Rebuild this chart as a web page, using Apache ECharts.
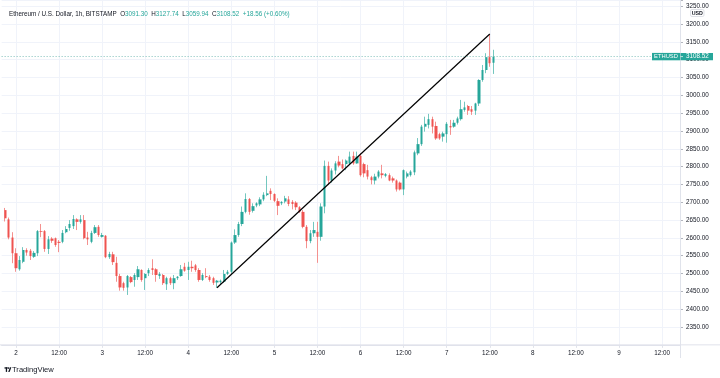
<!DOCTYPE html>
<html><head><meta charset="utf-8">
<script src="https://cdn.jsdelivr.net/npm/echarts@6/dist/echarts.min.js"></script>
<style>html,body{margin:0;padding:0;background:#fff}#c{width:720px;height:378px}</style>
</head><body><div id="c"></div>
<script>
// hours are counted from day 2, 00:00
const firstDay = 2;
const firstCandleHour = -3;
const axisFirstHour = -4;
const axisLastHour = 185;

const opens = [2678,2652,2601,2557,2512,2533,2566,2564,2547,2557,2619,2619,2569,2598,2599,2589,2589,2616,2628,2633,2652,2645,2650,2601,2589,2614,2631,2603,2606,2546,2554,2530,2493,2473,2461,2490,2482,2490,2510,2487,2501,2515,2512,2493,2496,2470,2487,2473,2487,2493,2519,2510,2519,2523,2510,2482,2493,2491,2487,2475,2476,2477,2499,2505,2587,2608,2639,2673,2709,2676,2691,2694,2708,2720,2732,2723,2703,2697,2702,2708,2701,2699,2686,2673,2631,2591,2613,2617,2603,2688,2802,2761,2789,2814,2807,2807,2809,2830,2809,2830,2807,2790,2770,2761,2772,2781,2774,2776,2767,2761,2755,2736,2772,2776,2784,2837,2863,2912,2917,2933,2914,2891,2884,2891,2914,2912,2923,2933,2959,2970,2961,2957,2977,3043,3071,3107,3091.30];
const highs = [2684,2657,2616,2571,2549,2574,2571,2569,2563,2622,2639,2622,2605,2602,2601,2594,2622,2633,2650,2664,2655,2664,2664,2617,2620,2636,2636,2614,2608,2561,2561,2547,2499,2477,2496,2493,2501,2521,2512,2501,2515,2540,2515,2504,2499,2491,2491,2496,2493,2524,2530,2533,2536,2527,2515,2501,2515,2496,2491,2482,2483,2510,2510,2590,2624,2645,2688,2725,2712,2697,2700,2714,2728,2774,2739,2725,2711,2703,2718,2717,2706,2703,2689,2678,2636,2622,2645,2645,2697,2817,2814,2795,2815,2830,2820,2820,2842,2842,2842,2837,2811,2805,2774,2780,2790,2805,2782,2781,2772,2764,2758,2792,2786,2790,2845,2880,2917,2940,2948,2940,2926,2895,2898,2925,2931,2931,2940,2987,2982,2973,2970,2979,3045,3085,3118,3172,3127.74];
const lows = [2646,2596,2529,2505,2508,2529,2550,2538,2544,2549,2602,2561,2555,2586,2575,2560,2585,2613,2620,2625,2622,2640,2596,2580,2585,2611,2603,2601,2543,2541,2524,2477,2452,2452,2440,2473,2463,2482,2477,2454,2493,2496,2477,2485,2468,2454,2468,2456,2482,2491,2505,2482,2505,2505,2477,2479,2487,2477,2468,2460,2471,2474,2496,2499,2583,2603,2633,2669,2665,2671,2686,2689,2703,2717,2706,2700,2664,2692,2697,2689,2680,2678,2670,2627,2571,2585,2603,2530,2592,2669,2748,2755,2778,2798,2792,2790,2805,2805,2808,2772,2770,2764,2750,2750,2767,2767,2770,2759,2755,2730,2733,2720,2767,2772,2776,2832,2858,2898,2907,2893,2875,2875,2870,2867,2889,2909,2918,2929,2954,2945,2945,2945,2970,3038,3062,3080,3059.94];
const closes = [2655,2601,2557,2515,2538,2566,2559,2549,2558,2619,2617,2569,2596,2592,2580,2586,2614,2625,2639,2653,2645,2652,2599,2596,2614,2630,2608,2608,2546,2555,2532,2493,2461,2460,2493,2476,2496,2512,2482,2499,2510,2510,2496,2499,2473,2487,2473,2487,2491,2512,2508,2519,2515,2510,2482,2496,2490,2482,2474,2480,2480,2499,2505,2587,2608,2639,2673,2709,2673,2689,2697,2708,2721,2725,2723,2704,2690,2701,2711,2695,2695,2686,2673,2631,2591,2613,2622,2603,2688,2802,2761,2789,2809,2803,2795,2817,2828,2809,2828,2776,2781,2772,2762,2772,2786,2776,2779,2761,2761,2736,2736,2790,2781,2786,2840,2863,2912,2920,2933,2912,2879,2879,2893,2920,2910,2923,2935,2961,2966,2957,2954,2977,3043,3071,3107,3089.96,3108.52];

const trendHours = [56, 132];
const trendPrices = [2460, 3172];

const symbolName = 'ETHUSD';
const headerName = 'Ethereum / U.S. Dollar, 1h, BITSTAMP';
const currency = 'USD';
const yTicks = {min: 2300, max: 3267.3, step: 50};

const UP = '#26a69a', DOWN = '#ef5350';
const UP_W = '#74c7bf', DOWN_W = '#f4918f';
const FONT = 'Liberation Sans';
const TXT = '#131722';

const categories = [];
for (let h = axisFirstHour; h <= axisLastHour; h++) categories.push(String(h));
const offset = firstCandleHour - axisFirstHour;
const fullData = [], bodyData = [];
for (let i = 0; i < offset; i++) { fullData.push('-'); bodyData.push('-'); }
for (let i = 0; i < opens.length; i++) {
  fullData.push([opens[i], closes[i], lows[i], highs[i]]);
  bodyData.push([opens[i], closes[i], Math.min(opens[i], closes[i]), Math.max(opens[i], closes[i])]);
}
const n = closes.length;
const lastO = opens[n-1], lastH = highs[n-1], lastL = lows[n-1], lastC = closes[n-1];
const chg = lastC - closes[n-2];
const pct = chg / closes[n-2] * 100;
const sign = v => (v >= 0 ? '+' : '') + v.toFixed(2);

const isTick = (idx) => (Number(categories[idx]) % 12 === 0);

const chart = echarts.init(document.getElementById('c'), null, {renderer: 'canvas'});
const option = {
  animation: false,
  backgroundColor: '#ffffff',
  title: {
    left: 9, top: 10, padding: 0,
    text: `{d|${headerName}}  {d|O}{v|${lastO.toFixed(2)}}  {d|H}{v|${lastH.toFixed(2)}}  {d|L}{v|${lastL.toFixed(2)}}  {d|C}{v|${lastC.toFixed(2)}}  {v|${sign(chg)} (${sign(pct)}%)}`,
    textStyle: {
      fontSize: 6.3, fontFamily: FONT, color: TXT, fontWeight: 'normal', lineHeight: 8,
      rich: {
        d: {fontSize: 6.3, fontFamily: FONT, color: TXT, lineHeight: 8},
        v: {fontSize: 6.3, fontFamily: FONT, color: UP, lineHeight: 8}
      }
    }
  },
  grid: {left: 1.64, right: 40, top: 0, bottom: 33.15, containLabel: false, outerBoundsMode: 'none'},
  xAxis: {
    type: 'category', data: categories, boundaryGap: false,
    axisLine: {show: true, lineStyle: {color: '#e0e3eb', width: 1}},
    axisTick: {show: true, interval: isTick, length: 3, lineStyle: {color: '#e0e3eb'}},
    axisLabel: {
      interval: isTick, margin: 5, fontSize: 6.3, fontFamily: FONT, color: TXT,
      formatter: (v) => { const h = Number(v); return h % 24 === 0 ? String(firstDay + h / 24) : '12:00'; }
    },
    splitLine: {show: true, interval: isTick, lineStyle: {color: '#f0f3fa', width: 1}}
  },
  yAxis: {
    type: 'value', position: 'right', scale: true,
    min: yTicks.min, max: yTicks.max, interval: yTicks.step,
    axisLine: {show: false},
    axisTick: {show: true, length: 3, lineStyle: {color: '#b2b5be'}},
    axisLabel: {
      margin: 6, fontSize: 6.3, fontFamily: FONT, color: TXT, showMinLabel: false,
      formatter: (v) => (Math.abs(v % yTicks.step) < 1e-6 ? v.toFixed(2) : '')
    },
    splitLine: {show: true, lineStyle: {color: '#f0f3fa', width: 1}}
  },
  series: [
    {
      type: 'candlestick', name: 'wick', data: fullData, barWidth: 1, silent: true,
      itemStyle: {color: UP_W, color0: DOWN_W, borderColor: UP_W, borderColor0: DOWN_W, borderWidth: 1}
    },
    {
      type: 'candlestick', name: 'body', data: bodyData, barWidth: 2.8, silent: true,
      itemStyle: {color: UP, color0: DOWN, borderColor: UP, borderColor0: DOWN, borderWidth: 0},
      markLine: {
        silent: true, symbol: 'none', animation: false,
        label: {show: false},
        data: [
          [
            {coord: [String(trendHours[0]), trendPrices[0]], lineStyle: {color: '#000000', width: 1.2, type: 'solid'}},
            {coord: [String(trendHours[1]), trendPrices[1]]}
          ],
          {yAxis: lastC, lineStyle: {color: '#7fbfb8', width: 1, type: [1, 2]}}
        ]
      }
    }
  ],
  graphic: []
};
chart.setOption(option);

const py = chart.convertToPixel({yAxisIndex: 0}, lastC);
const plotRight = 720 - 40;
chart.setOption({
  graphic: [
    {type: 'line', shape: {x1: plotRight + 0.5, y1: 0, x2: plotRight + 0.5, y2: 358}, style: {stroke: '#e0e3eb', lineWidth: 1}, z: 50},
    {type: 'line', shape: {x1: 0, y1: 344.85, x2: 720, y2: 344.85}, style: {stroke: '#e0e3eb', lineWidth: 1}, z: 50},
    {type: 'rect', shape: {x: 690.5, y: 9.5, width: 13.5, height: 7, r: 1.5}, style: {fill: '#ffffff', stroke: '#d1d4dc', lineWidth: 0.7}, z: 60},
    {type: 'text', x: 697.3, y: 13.1, style: {text: currency, fontSize: 5.3, fontFamily: FONT, fontWeight: 'bold', fill: TXT, align: 'center', verticalAlign: 'middle'}, z: 61},
    {type: 'rect', shape: {x: 652, y: py - 3.7, width: 28, height: 7.4}, style: {fill: UP}, z: 60},
    {type: 'text', x: 666, y: py, style: {text: symbolName, fontSize: 5.8, fontFamily: FONT, fill: '#ffffff', align: 'center', verticalAlign: 'middle'}, z: 61},
    {type: 'rect', shape: {x: plotRight + 0.5, y: py - 3.7, width: 32.5, height: 7.4}, style: {fill: UP}, z: 60},
    {type: 'line', shape: {x1: plotRight + 0.5, y1: py, x2: plotRight + 3, y2: py}, style: {stroke: '#ffffff', lineWidth: 0.7}, z: 61},
    {type: 'text', x: 686, y: py, style: {text: lastC.toFixed(2), fontSize: 6.3, fontFamily: FONT, fill: '#ffffff', align: 'left', verticalAlign: 'middle'}, z: 61},
    // TradingView logo
    {type: 'rect', shape: {x: 4.5, y: 367.3, width: 3.2, height: 1.3}, style: {fill: TXT}, z: 60},
    {type: 'rect', shape: {x: 5.8, y: 367.3, width: 1.3, height: 4.6}, style: {fill: TXT}, z: 60},
    {type: 'circle', shape: {cx: 8.6, cy: 368.1, r: 0.8}, style: {fill: TXT}, z: 60},
    {type: 'polygon', shape: {points: [[8.2, 371.9], [10.0, 367.3], [11.4, 367.3], [9.6, 371.9]]}, style: {fill: TXT}, z: 60},
    {type: 'text', x: 12, y: 369.6, style: {text: 'TradingView', fontSize: 7.6, fontFamily: FONT, fill: TXT, align: 'left', verticalAlign: 'middle'}, z: 60}
  ]
});
</script>
</body></html>
